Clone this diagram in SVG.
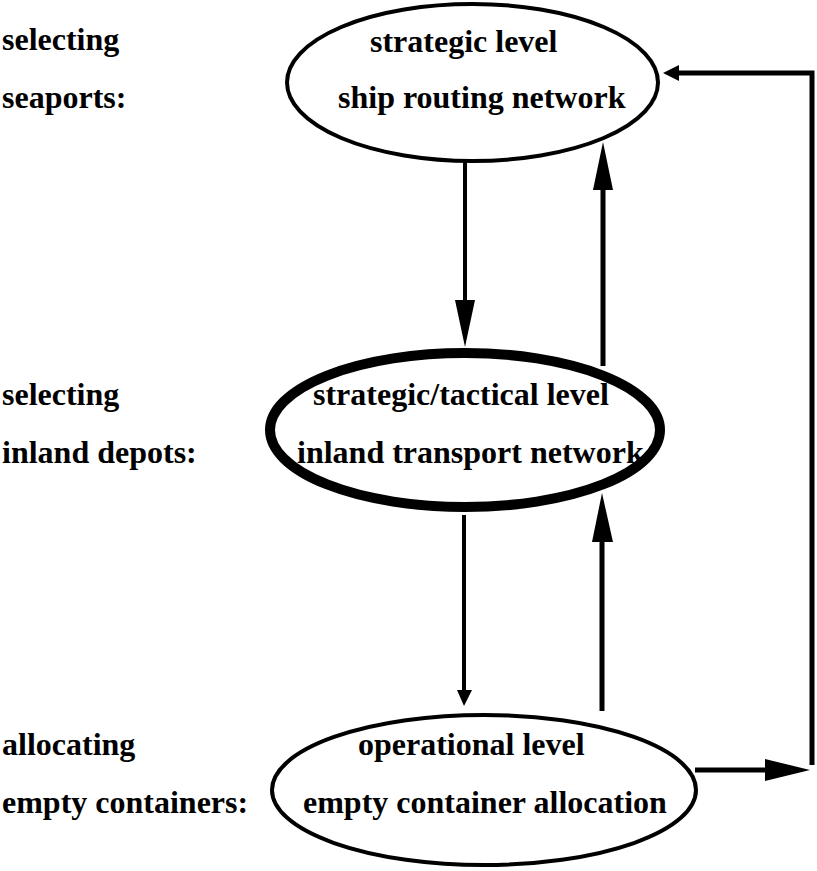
<svg xmlns="http://www.w3.org/2000/svg" width="817" height="871" viewBox="0 0 817 871">
  <style>
    .lbl { font-family: "Liberation Serif", "Times New Roman", serif; font-weight: bold; font-size: 32px; fill: #000; }
    .node { fill: none; stroke: #000; stroke-width: 4; }
    .thick { stroke-width: 10; }
    .wire { fill: none; stroke: #000; stroke-width: 4; }
    .head { fill: #000; stroke: none; }
  </style>
  <rect width="817" height="871" fill="#fff"/>

  <!-- row descriptions on the left -->
  <g id="side-labels">
    <text class="lbl" x="2" y="50">selecting</text>
    <text class="lbl" x="2" y="108">seaports:</text>
    <text class="lbl" x="2" y="405">selecting</text>
    <text class="lbl" x="2" y="463">inland depots:</text>
    <text class="lbl" x="2" y="755">allocating</text>
    <text class="lbl" x="2" y="813">empty containers:</text>
  </g>

  <g id="connectors">
    <!-- strategic -> tactical -->
    <line class="wire" x1="465" y1="162" x2="465" y2="302"/>
    <polygon class="head" points="455,300 475,300 465,347"/>
    <!-- tactical -> strategic -->
    <line class="wire" x1="603" y1="366" x2="603" y2="188" style="stroke-width:5"/>
    <polygon class="head" points="593,190 613,190 603,142"/>
    <!-- tactical -> operational -->
    <line class="wire" x1="464" y1="515" x2="464" y2="692"/>
    <polygon class="head" points="457,690 472,690 464,706"/>
    <!-- operational -> tactical -->
    <line class="wire" x1="602" y1="711" x2="602" y2="540" style="stroke-width:5"/>
    <polygon class="head" points="592,542 613,542 602,493"/>
    <!-- operational feedback to strategic -->
    <line class="wire" x1="695" y1="770" x2="767" y2="770" style="stroke-width:5"/>
    <polygon class="head" points="765,759 765,781 810,770"/>
    <polyline class="wire" points="812,765 812,73 676,73" style="stroke-width:5"/>
    <polygon class="head" points="679,65 679,81 663,73"/>
  </g>

  <g id="strategic">
    <ellipse class="node" cx="472.5" cy="82.5" rx="185.5" ry="78.5"/>
    <text class="lbl" x="370" y="52">strategic level</text>
    <text class="lbl" x="338" y="108">ship routing network</text>
  </g>

  <g id="tactical">
    <ellipse class="node thick" cx="465" cy="430" rx="195" ry="77"/>
    <text class="lbl" x="313" y="405">strategic/tactical level</text>
    <text class="lbl" x="297" y="463">inland transport network</text>
  </g>

  <g id="operational">
    <ellipse class="node" cx="484" cy="790" rx="212" ry="75"/>
    <text class="lbl" x="358" y="755">operational level</text>
    <text class="lbl" x="303" y="813">empty container allocation</text>
  </g>
</svg>
